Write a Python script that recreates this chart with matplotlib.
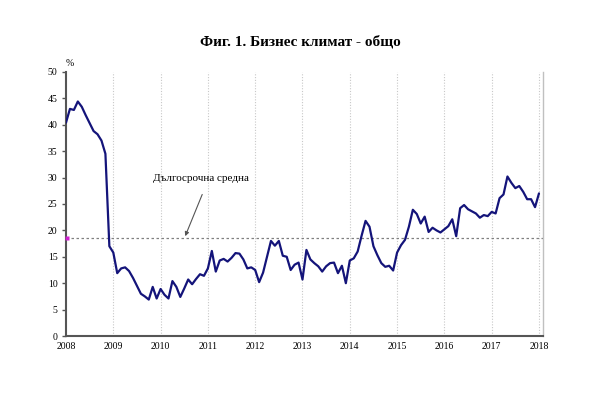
import matplotlib
matplotlib.use("Agg")
import matplotlib.pyplot as plt
import numpy as np

plt.rcParams['font.family'] = ['Liberation Serif', 'DejaVu Serif']

# Monthly business climate indicator, Jan 2008 - Jan 2018
values = [
    40.4, 43.0, 42.8, 44.4, 43.4, 41.8, 40.3, 38.8, 38.2, 37.0, 34.5, 17.0,   # 2008
    15.8, 11.9, 12.8, 13.0, 12.3, 11.0, 9.5, 8.0, 7.5, 6.9, 9.3, 7.1,         # 2009
    8.9, 7.8, 7.1, 10.4, 9.3, 7.4, 9.0, 10.7, 9.8, 10.8, 11.7, 11.4,          # 2010
    12.8, 16.1, 12.2, 14.3, 14.6, 14.1, 14.8, 15.7, 15.6, 14.5, 12.8, 13.0,   # 2011
    12.5, 10.2, 12.0, 15.0, 18.0, 17.1, 18.0, 15.2, 15.0, 12.5, 13.5, 13.9,   # 2012
    10.7, 16.3, 14.5, 13.8, 13.2, 12.2, 13.2, 13.8, 13.9, 11.9, 13.3, 10.0,   # 2013
    14.3, 14.7, 16.0, 19.0, 21.8, 20.7, 17.0, 15.3, 13.8, 13.1, 13.3, 12.4,   # 2014
    15.8, 17.2, 18.2, 20.7, 23.9, 23.1, 21.3, 22.6, 19.7, 20.5, 20.0, 19.6,   # 2015
    20.2, 20.8, 22.1, 18.9, 24.2, 24.8, 24.0, 23.6, 23.2, 22.4, 22.9, 22.7,   # 2016
    23.5, 23.2, 26.1, 26.8, 30.2, 29.0, 28.0, 28.4, 27.3, 25.9, 25.9, 24.4,   # 2017
    27.0,                                                                      # 2018
]
start_year = 2008
long_term_mean = 18.6
year_labels = [str(y) for y in range(2008, 2019)]
y_ticks = list(range(0, 55, 5))

title = "Фиг. 1. Бизнес климат - общо"
annot = "Дългосрочна средна"

x = start_year + np.arange(len(values)) / 12.0

fig = plt.figure(figsize=(6.0, 3.93), dpi=100)
ax = fig.add_axes([0.11, 0.145, 0.795, 0.672])

years = np.arange(2008, 2019)
for yr in years[1:]:
    ax.axvline(yr, color='#c8c8c8', lw=0.8, ls=(0, (1, 1.5)), zorder=1)

ax.axhline(long_term_mean, color='#808080', lw=0.9, ls=(0, (2, 2)), zorder=2)
ax.plot([2008.02], [long_term_mean], marker='s', ms=2.5, color='#d020d0',
        clip_on=False, zorder=3, mec='none')

ax.plot(x, values, color='#14147a', lw=1.6, solid_joinstyle='round',
        solid_capstyle='round', zorder=4)

ax.set_xlim(2008, 2018.085)
ax.set_ylim(0, 50)
ax.set_yticks(y_ticks)
ax.set_yticklabels([str(v) for v in y_ticks], fontsize=7)
ax.set_xticks(years)
ax.set_xticklabels(year_labels, fontsize=7)
ax.tick_params(axis='x', length=0, pad=4)
ax.tick_params(axis='y', length=3, width=1, color='#555555', pad=3, direction='out')

ax.spines['top'].set_visible(False)
ax.spines['left'].set_color('#555555')
ax.spines['left'].set_linewidth(1.5)
ax.spines['bottom'].set_color('#555555')
ax.spines['bottom'].set_linewidth(1.5)
ax.spines['right'].set_color('#c0c0c0')
ax.spines['right'].set_linewidth(1.0)

ax.text(0.0, 1.015, "%", transform=ax.transAxes, fontsize=7, ha='left', va='bottom')

ax.annotate("", xy=(2010.52, 18.9), xytext=(2010.88, 26.8),
            arrowprops=dict(arrowstyle='-|>', color='#555555', lw=0.8,
                            mutation_scale=6, shrinkA=0, shrinkB=0))
ax.text(2010.85, 29.9, annot, fontsize=8, ha='center', va='center')

fig.text(0.5, 0.893, title, fontsize=11, fontweight='bold', ha='center', va='center')

fig.savefig("out.png", dpi=100, facecolor='white')
